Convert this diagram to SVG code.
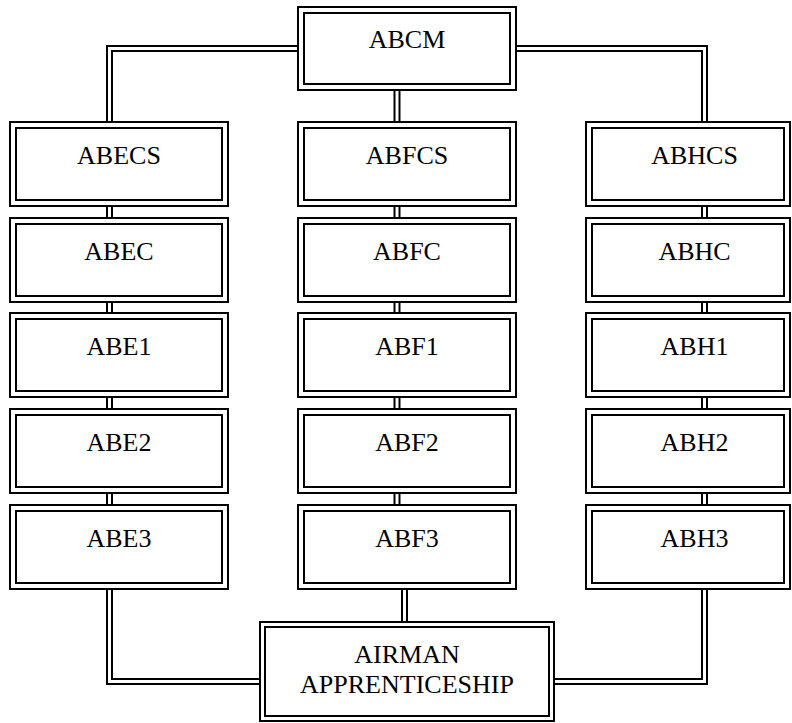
<svg xmlns="http://www.w3.org/2000/svg" width="792" height="723" viewBox="0 0 792 723">
<style>
.o{fill:#fff;stroke:#000;stroke-width:2}
.i{fill:none;stroke:#000;stroke-width:2}
.t{font-family:"Liberation Serif","Times New Roman",serif;font-size:26px;fill:#000;text-anchor:middle}
.cb{fill:none;stroke:#000;stroke-width:7}
.cw{fill:none;stroke:#fff;stroke-width:3}
</style>
<defs>
<path id="conn" d="M298,48.5 H109.5 V124 M516,48.5 H704.5 V124 M397,89 V124 M109.5,205 V220 M109.5,301 V315 M109.5,396 V411 M109.5,492 V507 M397,205 V220 M397,301 V315 M397,396 V411 M397,492 V507 M704.5,205 V220 M704.5,301 V315 M704.5,396 V411 M704.5,492 V507 M109.5,588 V681.5 H261 M404.5,588 V623 M704.5,588 V681.5 H553"/>
</defs>
<g id="connectors">
<use href="#conn" class="cb"/>
<use href="#conn" class="cw"/>
</g>
<g id="ABCM"><rect class="o" x="298" y="7" width="218" height="83"/><rect class="i" x="304" y="13" width="206" height="71"/><text class="t" x="407" y="48">ABCM</text></g>
<g id="ABECS"><rect class="o" x="10" y="122" width="218" height="84"/><rect class="i" x="16" y="128" width="206" height="72"/><text class="t" x="119" y="164">ABECS</text></g>
<g id="ABEC"><rect class="o" x="10" y="218" width="218" height="84"/><rect class="i" x="16" y="224" width="206" height="72"/><text class="t" x="119" y="260">ABEC</text></g>
<g id="ABE1"><rect class="o" x="10" y="313" width="218" height="84"/><rect class="i" x="16" y="319" width="206" height="72"/><text class="t" x="119" y="355">ABE1</text></g>
<g id="ABE2"><rect class="o" x="10" y="409" width="218" height="84"/><rect class="i" x="16" y="415" width="206" height="72"/><text class="t" x="119" y="451">ABE2</text></g>
<g id="ABE3"><rect class="o" x="10" y="505" width="218" height="84"/><rect class="i" x="16" y="511" width="206" height="72"/><text class="t" x="119" y="547">ABE3</text></g>
<g id="ABFCS"><rect class="o" x="298" y="122" width="218" height="84"/><rect class="i" x="304" y="128" width="206" height="72"/><text class="t" x="407" y="164">ABFCS</text></g>
<g id="ABFC"><rect class="o" x="298" y="218" width="218" height="84"/><rect class="i" x="304" y="224" width="206" height="72"/><text class="t" x="407" y="260">ABFC</text></g>
<g id="ABF1"><rect class="o" x="298" y="313" width="218" height="84"/><rect class="i" x="304" y="319" width="206" height="72"/><text class="t" x="407" y="355">ABF1</text></g>
<g id="ABF2"><rect class="o" x="298" y="409" width="218" height="84"/><rect class="i" x="304" y="415" width="206" height="72"/><text class="t" x="407" y="451">ABF2</text></g>
<g id="ABF3"><rect class="o" x="298" y="505" width="218" height="84"/><rect class="i" x="304" y="511" width="206" height="72"/><text class="t" x="407" y="547">ABF3</text></g>
<g id="ABHCS"><rect class="o" x="586" y="122" width="204" height="84"/><rect class="i" x="592" y="128" width="192" height="72"/><text class="t" x="694.5" y="164">ABHCS</text></g>
<g id="ABHC"><rect class="o" x="586" y="218" width="204" height="84"/><rect class="i" x="592" y="224" width="192" height="72"/><text class="t" x="694.5" y="260">ABHC</text></g>
<g id="ABH1"><rect class="o" x="586" y="313" width="204" height="84"/><rect class="i" x="592" y="319" width="192" height="72"/><text class="t" x="694.5" y="355">ABH1</text></g>
<g id="ABH2"><rect class="o" x="586" y="409" width="204" height="84"/><rect class="i" x="592" y="415" width="192" height="72"/><text class="t" x="694.5" y="451">ABH2</text></g>
<g id="ABH3"><rect class="o" x="586" y="505" width="204" height="84"/><rect class="i" x="592" y="511" width="192" height="72"/><text class="t" x="694.5" y="547">ABH3</text></g>
<g id="AIRMAN"><rect class="o" x="260" y="622" width="294" height="99"/><rect class="i" x="265" y="627" width="284" height="89"/><text class="t" x="407" y="663">AIRMAN</text><text class="t" x="407" y="693">APPRENTICESHIP</text></g>
</svg>
